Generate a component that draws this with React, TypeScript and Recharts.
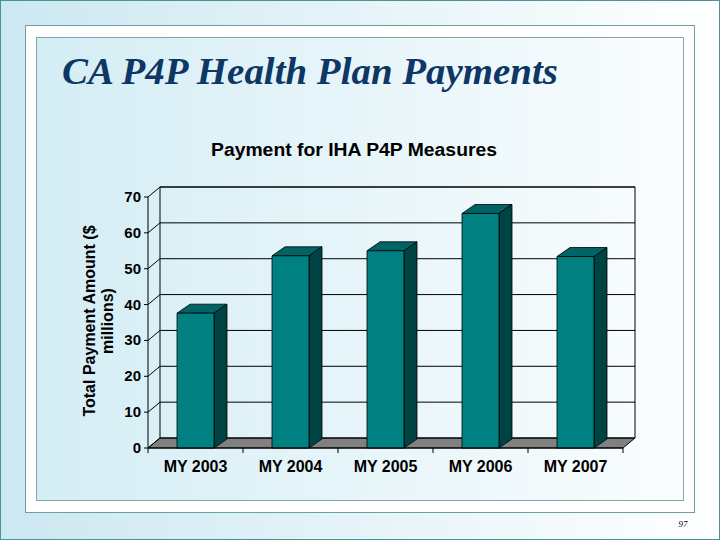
import { BarChart, Bar, XAxis, YAxis, CartesianGrid } from 'recharts';

const years = ['MY 2003', 'MY 2004', 'MY 2005', 'MY 2006', 'MY 2007'];
const payments = [37.6, 53.6, 55.0, 65.4, 53.4];
const yTicks = [0, 10, 20, 30, 40, 50, 60, 70];

const data = years.map((year, i) => ({ year, amount: payments[i] }));

// front face of the plot box, and the 3-D depth of the back wall
const LEFT = 148;
const TOP = 197;
const RIGHT = 623;
const BOTTOM = 448;
const DX = 12;
const DY = -10;
const Y_AXIS_W = 40;
const X_AXIS_H = 30;
const SANS = "Arial, 'Liberation Sans', sans-serif";

const Bar3D = (props: any) => {
  const { x, y, width, height } = props;
  if (!height) return null;
  const d = 13;
  const e = -9;
  return (
    <g stroke="#000" strokeWidth={0.8} strokeLinejoin="round">
      <path d={`M${x},${y} L${x + d},${y + e} L${x + width + d},${y + e} L${x + width},${y} Z`} fill="#006464" />
      <path
        d={`M${x + width},${y} L${x + width + d},${y + e} L${x + width + d},${y + height + e} L${x + width},${y + height} Z`}
        fill="#004343"
      />
      <rect x={x} y={y} width={width} height={height} fill="#008080" />
    </g>
  );
};

const YTick = ({ y, payload }: any) => (
  <g>
    <line x1={LEFT} y1={y} x2={LEFT + DX} y2={y + DY} stroke="#000" />
    <line x1={LEFT - 4} y1={y} x2={LEFT} y2={y} stroke="#000" />
    <text x={LEFT - 7} y={y} dy={5} textAnchor="end" fontSize={15} fontWeight="bold" fill="#000" fontFamily={SANS}>
      {payload.value}
    </text>
  </g>
);

const XTick = ({ x, payload, index }: any) => {
  const band = (RIGHT - LEFT) / years.length;
  return (
    <g>
      <line x1={x - band / 2} y1={BOTTOM} x2={x - band / 2} y2={BOTTOM + 5} stroke="#000" />
      {index === years.length - 1 && <line x1={x + band / 2} y1={BOTTOM} x2={x + band / 2} y2={BOTTOM + 5} stroke="#000" />}
      <text x={x} y={BOTTOM + 24} textAnchor="middle" fontSize={16} fontWeight="bold" fill="#000" fontFamily={SANS}>
        {payload.value}
      </text>
    </g>
  );
};

const App = () => {
  return (
    <div style={{ position: 'relative', width: 720, height: 540, overflow: 'hidden' }}>
      <style>{`body{margin:0} .grid3d{transform:translate(${DX}px,${DY}px)}`}</style>
      <svg width={720} height={540} style={{ position: 'absolute', left: 0, top: 0 }}>
        <defs>
          <linearGradient id="bg" x1="0" x2="1" y1="0" y2="0">
            <stop offset="0" stopColor="#cce8f1" />
            <stop offset="1" stopColor="#ffffff" />
          </linearGradient>
          <linearGradient id="inner" x1="0" x2="1" y1="0" y2="0">
            <stop offset="0" stopColor="#d4edf5" />
            <stop offset="1" stopColor="#fafdfe" />
          </linearGradient>
        </defs>
        <rect x={0.5} y={0.5} width={719} height={539} fill="url(#bg)" stroke="#4c9399" />
        <rect x={25.5} y={25.5} width={669} height={487} fill="#fff" stroke="#6a9fa4" />
        <rect x={36.5} y={37.5} width={647} height={463} fill="url(#inner)" stroke="#86a6a9" />
        <path
          d={`M${LEFT + DX},${BOTTOM + DY} L${LEFT + DX},${TOP + DY} L${RIGHT + DX},${TOP + DY} L${RIGHT + DX},${BOTTOM + DY}`}
          fill="none"
          stroke="#000"
        />
        <path
          d={`M${LEFT},${BOTTOM} L${RIGHT},${BOTTOM} L${RIGHT + DX},${BOTTOM + DY} L${LEFT + DX},${BOTTOM + DY} Z`}
          fill="#808080"
          stroke="#000"
        />
      </svg>
      <div style={{ position: 'absolute', left: 0, top: 0 }}>
        <BarChart
          width={720}
          height={540}
          data={data}
          barSize={37}
          margin={{ top: TOP, left: LEFT - Y_AXIS_W, right: 720 - RIGHT, bottom: 540 - BOTTOM - X_AXIS_H }}
        >
          <CartesianGrid className="grid3d" vertical={false} stroke="#000" strokeWidth={1} />
          <XAxis dataKey="year" height={X_AXIS_H} axisLine={{ stroke: '#000' }} tickLine={false} tick={<XTick />} interval={0} />
          <YAxis width={Y_AXIS_W} domain={[0, 70]} ticks={yTicks} axisLine={{ stroke: '#000' }} tickLine={false} tick={<YTick />} />
          <Bar dataKey="amount" shape={<Bar3D />} isAnimationActive={false} />
        </BarChart>
      </div>
      <svg width={720} height={540} style={{ position: 'absolute', left: 0, top: 0, pointerEvents: 'none' }}>
        <text
          x={62}
          y={84}
          fontSize={37}
          fontStyle="italic"
          fontWeight="bold"
          fill="#0d3764"
          fontFamily="'Liberation Serif', serif"
          textLength={496}
          lengthAdjust="spacingAndGlyphs"
        >
          CA P4P Health Plan Payments
        </text>
        <text
          x={211}
          y={156}
          fontSize={18}
          fontWeight="bold"
          fill="#000"
          fontFamily={SANS}
          textLength={286}
          lengthAdjust="spacingAndGlyphs"
        >
          Payment for IHA P4P Measures
        </text>
        <g transform="translate(0,321) rotate(-90)" fontSize={16} fontWeight="bold" fill="#000" fontFamily={SANS} textAnchor="middle">
          <text x={0} y={95}>Total Payment Amount ($</text>
          <text x={0} y={113}>millions)</text>
        </g>
        <text x={683} y={527} textAnchor="middle" fontSize={9} fontStyle="italic" fill="#000" fontFamily="'Liberation Serif', serif">
          97
        </text>
      </svg>
    </div>
  );
};

export default App;
